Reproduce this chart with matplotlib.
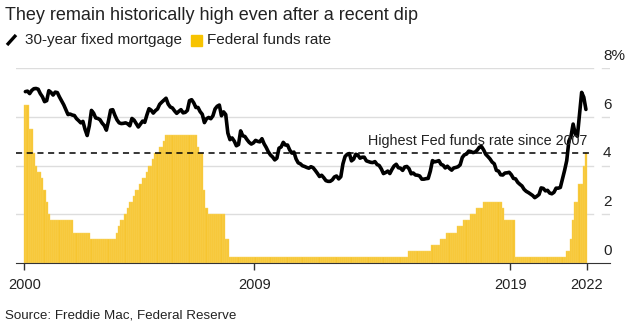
import numpy as np
import matplotlib.pyplot as plt
from matplotlib.lines import Line2D
from matplotlib.patches import Rectangle

plt.rcParams['font.family'] = ['Liberation Sans', 'DejaVu Sans']

# monthly, Jan 2001 .. Dec 2022 (one value per month)
mortgage = [
    7.03, 7.05, 6.95, 7.08, 7.15, 7.16, 7.13, 6.95, 6.82, 6.62, 6.66, 7.07,  # 2001
    7.00, 6.89, 7.01, 6.99, 6.81, 6.65, 6.49, 6.29, 6.09, 6.11, 6.07, 6.05,  # 2002
    5.92, 5.84, 5.75, 5.81, 5.48, 5.23, 5.63, 6.26, 6.15, 5.95, 5.93, 5.88,  # 2003
    5.74, 5.64, 5.45, 5.83, 6.27, 6.29, 6.06, 5.87, 5.75, 5.72, 5.73, 5.75,  # 2004
    5.71, 5.63, 5.93, 5.86, 5.72, 5.58, 5.70, 5.82, 5.77, 6.07, 6.33, 6.27,  # 2005
    6.15, 6.25, 6.32, 6.51, 6.60, 6.68, 6.76, 6.52, 6.40, 6.36, 6.24, 6.14,  # 2006
    6.22, 6.29, 6.16, 6.18, 6.26, 6.66, 6.70, 6.57, 6.38, 6.38, 6.21, 6.10,  # 2007
    5.76, 5.92, 5.97, 5.92, 6.04, 6.32, 6.43, 6.48, 6.04, 6.20, 6.09, 5.33,  # 2008
    5.06, 5.13, 5.00, 4.81, 4.86, 5.42, 5.22, 5.19, 5.06, 4.95, 4.88, 4.93,  # 2009
    5.03, 4.99, 4.97, 5.10, 4.89, 4.74, 4.56, 4.43, 4.35, 4.23, 4.30, 4.71,  # 2010
    4.76, 4.95, 4.84, 4.84, 4.64, 4.51, 4.55, 4.27, 4.11, 4.07, 3.99, 3.96,  # 2011
    3.92, 3.89, 3.95, 3.91, 3.80, 3.68, 3.55, 3.60, 3.50, 3.38, 3.35, 3.35,  # 2012
    3.41, 3.53, 3.57, 3.45, 3.54, 4.07, 4.37, 4.46, 4.49, 4.19, 4.26, 4.46,  # 2013
    4.43, 4.30, 4.34, 4.34, 4.19, 4.16, 4.13, 4.12, 4.16, 4.04, 4.00, 3.86,  # 2014
    3.67, 3.71, 3.77, 3.67, 3.84, 3.98, 4.05, 3.91, 3.89, 3.80, 3.94, 3.96,  # 2015
    3.87, 3.66, 3.69, 3.61, 3.60, 3.57, 3.44, 3.44, 3.46, 3.47, 3.77, 4.20,  # 2016
    4.15, 4.17, 4.20, 4.05, 4.01, 3.90, 3.97, 3.88, 3.81, 3.90, 3.92, 3.95,  # 2017
    4.03, 4.33, 4.44, 4.47, 4.59, 4.57, 4.53, 4.55, 4.63, 4.75, 4.78, 4.64,  # 2018
    4.46, 4.37, 4.27, 4.14, 4.07, 3.80, 3.77, 3.62, 3.61, 3.69, 3.70, 3.72,  # 2019
    3.62, 3.47, 3.45, 3.31, 3.23, 3.16, 3.02, 2.94, 2.89, 2.83, 2.77, 2.68,  # 2020
    2.74, 2.81, 3.08, 3.06, 2.96, 2.98, 2.87, 2.84, 2.90, 3.07, 3.07, 3.10,  # 2021
    3.45, 3.80, 4.20, 5.00, 5.20, 5.70, 5.30, 5.20, 6.10, 7.00, 6.80, 6.30,  # 2022
]

fed_funds = (
    [6.5, 6.5, 5.5, 5.5, 4.5, 4.0, 3.75, 3.75, 3.5, 3.0, 2.5, 2.0]      # 2001
    + [1.75] * 11 + [1.25]                                              # 2002
    + [1.25] * 7 + [1.0] * 5                                            # 2003
    + [1.0] * 7 + [1.25, 1.5, 1.75, 1.75, 2.0]                          # 2004
    + [2.25, 2.5, 2.5, 2.75, 3.0, 3.0, 3.25, 3.5, 3.5, 3.75, 4.0, 4.0]  # 2005
    + [4.25, 4.5, 4.5, 4.75, 4.75, 5.0] + [5.25] * 6                    # 2006
    + [5.25] * 9 + [4.75, 4.5, 4.5]                                     # 2007
    + [3.0, 2.25] + [2.0] * 8 + [1.0, 1.0]                              # 2008
    + [0.25] * 84                                                       # 2009-2015
    + [0.5] * 11 + [0.75]                                               # 2016
    + [0.75, 0.75, 0.75, 1.0, 1.0, 1.0, 1.25, 1.25, 1.25, 1.25, 1.25, 1.5]  # 2017
    + [1.5, 1.5, 1.75, 1.75, 1.75, 2.0, 2.0, 2.0, 2.25, 2.25, 2.25, 2.5]    # 2018
    + [2.5] * 8 + [2.25, 1.75, 1.75, 1.75]                              # 2019
    + [1.75, 1.75] + [0.25] * 10                                        # 2020
    + [0.25] * 12                                                       # 2021
    + [0.25, 0.25, 0.5, 0.5, 1.0, 1.75, 2.5, 2.5, 3.25, 3.25, 4.0, 4.5]  # 2022
)

x_ticks = [-0.5, 107.5, 227.5, 263.5]
x_labels = ["2000", "2009", "2019", "2022"]
y_ticks = [0, 2, 4, 6, 8]
y_labels = ["0", "2", "4", "6", "8%"]
fed_high = 4.5

months = np.arange(len(mortgage))
txt = "#222222"

fig = plt.figure(figsize=(6.32, 3.32), dpi=100)
ax = fig.add_axes([16 / 632, 69 / 332, 594 / 632, 195 / 332])
ax.set_xlim(-4.4, 274.3)
ax.set_ylim(0, 8)

# gridlines, broken just before the labels
for v in y_ticks[1:]:
    ax.plot([-4.4, 266.3], [v, v], color="#dddddd", lw=1, zorder=0)
    ax.plot([270.4, 274.3], [v, v], color="#dddddd", lw=1, zorder=0)
for v, lab in zip(y_ticks, y_labels):
    ax.text(271.0, v + 0.5, lab, ha="left", va="center", fontsize=11, color=txt)

ax.bar(months, fed_funds, width=1.0, color="#f6c530", edgecolor="#fbd766",
       linewidth=0.3, zorder=1)
ax.plot(months, mortgage, color="black", lw=2.6, solid_joinstyle="round",
        solid_capstyle="round", zorder=3)

ax.plot([-4.4, 266.3], [fed_high, fed_high], color="black", lw=1.1,
        ls=(0, (4, 3)), zorder=2)
ax.text(263.5, fed_high + 0.2, "Highest Fed funds rate since 2007",
        ha="right", va="bottom", fontsize=10.4, color=txt, zorder=4)

for s in ["top", "right", "left"]:
    ax.spines[s].set_visible(False)
ax.spines["bottom"].set_color("#333333")
ax.set_yticks([])
ax.set_xticks(x_ticks)
ax.set_xticklabels(x_labels, fontsize=10.5, color=txt)
ax.tick_params(axis="x", length=5, width=1, color="#333333", pad=6)

# title, legend, source
fig.text(5 / 632, 1 - 16 / 332, "They remain historically high even after a recent dip",
         fontsize=13, color=txt, va="center", ha="left")
fig.add_artist(Line2D([7 / 632, 16 / 632], [1 - 45 / 332, 1 - 35 / 332],
                      color="black", lw=2.4, solid_capstyle="butt"))
fig.text(25 / 632, 1 - 40 / 332, "30-year fixed mortgage", fontsize=11,
         color=txt, va="center", ha="left")
fig.add_artist(Rectangle((191 / 632, 1 - 46 / 332), 11 / 632, 11 / 332,
                         color="#f7c300", transform=fig.transFigure))
fig.text(207 / 632, 1 - 40 / 332, "Federal funds rate", fontsize=11,
         color=txt, va="center", ha="left")
fig.text(5 / 632, 1 - 316 / 332, "Source: Freddie Mac, Federal Reserve",
         fontsize=9.6, color=txt, va="center", ha="left")

fig.savefig("out.png", dpi=100)
